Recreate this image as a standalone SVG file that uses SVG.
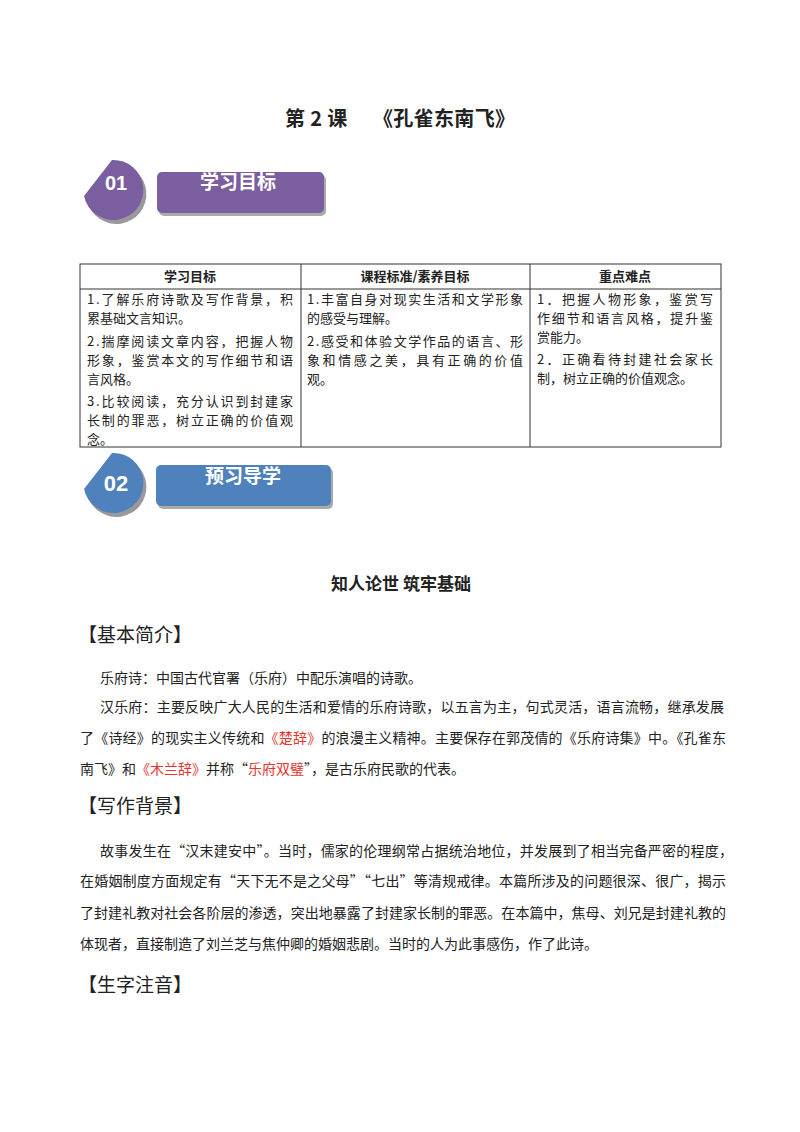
<svg xmlns="http://www.w3.org/2000/svg" width="800" height="1132" viewBox="0 0 800 1132">
<style>
text{font-family:"Noto Sans CJK SC","Liberation Serif",sans-serif;fill:#222}
.t{font-size:13px}
.th{font-size:13px;font-weight:bold;text-anchor:middle}
.b{font-size:14px}
.h{font-size:19px}
.r{fill:#e8332d}
.bw{fill:#fff;font-weight:bold}
</style>
<rect width="800" height="1132" fill="#fff"/>
<g id="title"><text x="285" y="126" textLength="230" style="font-size:20px;font-weight:bold">第 2 课　 《孔雀东南飞》</text></g>
<g id="badge1">
<path d="M115,164 A30 30 0 1 1 87,200 Z" fill="#999"/>
<path d="M112,160 A30 30 0 1 1 84,196 Z" fill="#7a5ea0"/>
<text x="116" y="190" class="bw" style="font-size:20px;font-family:'Liberation Sans',sans-serif" text-anchor="middle">01</text>
<rect x="159" y="175" width="167" height="41" rx="5" fill="#aaa"/>
<rect x="157" y="172" width="167" height="41" rx="5" fill="#7a5ea0"/>
<text x="238" y="189" class="bw" style="font-size:19px" text-anchor="middle">学习目标</text>
</g>
<g id="table" stroke="#333" stroke-width="1">
<rect x="80" y="264" width="641" height="183" fill="none"/>
<line x1="80" y1="289" x2="721" y2="289"/>
<line x1="301" y1="264" x2="301" y2="447"/>
<line x1="530" y1="264" x2="530" y2="447"/>
</g>
<g id="table-text">
<text class="th" x="190" y="281">学习目标</text>
<text class="th" x="415" y="281">课程标准/素养目标</text>
<text class="th" x="625" y="281">重点难点</text>
<text class="t" x="87" y="304" textLength="206">1.了解乐府诗歌及写作背景，积</text>
<text class="t" x="87" y="323">累基础文言知识。</text>
<text class="t" x="87" y="346" textLength="206">2.揣摩阅读文章内容，把握人物</text>
<text class="t" x="87" y="365" textLength="206">形象，鉴赏本文的写作细节和语</text>
<text class="t" x="87" y="384">言风格。</text>
<text class="t" x="87" y="406" textLength="206">3.比较阅读，充分认识到封建家</text>
<text class="t" x="87" y="425" textLength="206">长制的罪恶，树立正确的价值观</text>
<text class="t" x="87" y="444">念。</text>
<text class="t" x="307" y="304" textLength="216">1.丰富自身对现实生活和文学形象</text>
<text class="t" x="307" y="323">的感受与理解。</text>
<text class="t" x="307" y="346" textLength="216">2.感受和体验文学作品的语言、形</text>
<text class="t" x="307" y="365" textLength="216">象和情感之美，具有正确的价值</text>
<text class="t" x="307" y="384">观。</text>
<text class="t" x="537" y="304" textLength="176">1．把握人物形象，鉴赏写</text>
<text class="t" x="537" y="323" textLength="176">作细节和语言风格，提升鉴</text>
<text class="t" x="537" y="342">赏能力。</text>
<text class="t" x="537" y="364" textLength="176">2．正确看待封建社会家长</text>
<text class="t" x="537" y="383">制，树立正确的价值观念。</text>
</g>
<g id="badge2">
<path d="M115,457 A30 30 0 1 1 87,493 Z" fill="#999"/>
<path d="M112,453 A30 30 0 1 1 84,489 Z" fill="#4f81bd"/>
<text x="116" y="491" class="bw" style="font-size:22px;font-family:'Liberation Sans Narrow','Liberation Sans',sans-serif" text-anchor="middle">02</text>
<rect x="158" y="468" width="175" height="41" rx="5" fill="#aaa"/>
<rect x="156" y="465" width="175" height="41" rx="5" fill="#4f81bd"/>
<text x="243" y="483" class="bw" style="font-size:19px" text-anchor="middle">预习导学</text>
</g>
<g id="body">
<text x="401" y="590" text-anchor="middle" style="font-size:17px;font-weight:bold">知人论世 筑牢基础</text>
<text class="h" x="78" y="642">【基本简介】</text>
<text class="b" x="100" y="683">乐府诗：中国古代官署（乐府）中配乐演唱的诗歌。</text>
<text class="b" x="100" y="712" textLength="624">汉乐府：主要反映广大人民的生活和爱情的乐府诗歌，以五言为主，句式灵活，语言流畅，继承发展</text>
<text class="b" x="80" y="743" textLength="646">了《诗经》的现实主义传统和<tspan class="r">《楚辞》</tspan>的浪漫主义精神。主要保存在郭茂倩的《乐府诗集》中。《孔雀东</text>
<text class="b" x="80" y="774">南飞》和<tspan class="r">《木兰辞》</tspan>并称“<tspan class="r">乐府双璧</tspan>”，是古乐府民歌的代表。</text>
<text class="h" x="78" y="813">【写作背景】</text>
<text class="b" x="100" y="856" textLength="633">故事发生在“汉末建安中”。当时，儒家的伦理纲常占据统治地位，并发展到了相当完备严密的程度，</text>
<text class="b" x="80" y="886" textLength="646">在婚姻制度方面规定有“天下无不是之父母”“七出”等清规戒律。本篇所涉及的问题很深、很广，揭示</text>
<text class="b" x="80" y="918" textLength="646">了封建礼教对社会各阶层的渗透，突出地暴露了封建家长制的罪恶。在本篇中，焦母、刘兄是封建礼教的</text>
<text class="b" x="80" y="949">体现者，直接制造了刘兰芝与焦仲卿的婚姻悲剧。当时的人为此事感伤，作了此诗。</text>
<text class="h" x="78" y="992">【生字注音】</text>
</g>
</svg>
